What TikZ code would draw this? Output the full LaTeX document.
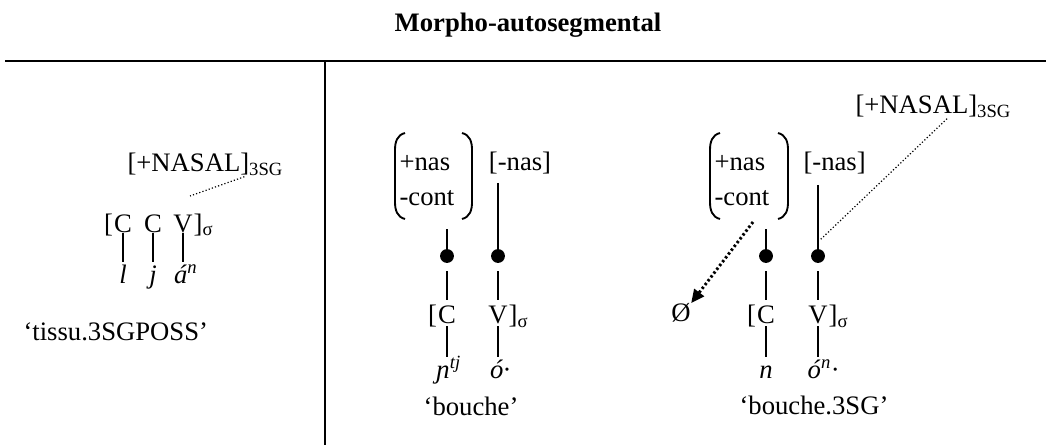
\documentclass[tikz,border=0pt]{standalone}
\usepackage{fontspec}
\setmainfont{Liberation Serif}
\usetikzlibrary{positioning,arrows.meta}
\tikzset{
    LN/.style ={line width=0.75pt},
    PA/.style ={line width=0.7pt},
    DT/.style ={line width=0.45pt, dash pattern=on 0.45pt off 0.8pt},
    DA/.style ={line width=1.1pt, dash pattern=on 0.9pt off 0.9pt, -{Triangle[length=5pt,width=4.5pt]}},
    DOT/.style ={circle, fill, inner sep=0pt, minimum size=5.2pt},
    UP/.style ={inner sep=0pt, text height=0.66em, text depth=0pt, anchor=base},
    SG/.style ={inner sep=0pt, text height=0.75em, text depth=0.2em, anchor=base, font=\itshape}}
\begin{document}
\begin{tikzpicture}[x=0.375pt, y=-0.375pt, every node/.style={inner sep=0pt}]
    \useasboundingbox (0,0) rectangle (1046,445);
    % title and rules
    \node[font=\bfseries, anchor=base] (T) at (528,32) {Morpho-autosegmental};
    \coordinate (h1) at (5,61);
    \coordinate (h2) at (1046,61);
    \coordinate (v1) at (325,61);
    \coordinate (v2) at (325,445);
    \draw[line width=0.9pt] (h1) -- (h2);
    \draw[line width=0.4pt] (v1) -- (v2);

    % left panel
    \node[anchor=base west] (N1) at (127,172) {[+NASAL]\textsubscript{3SG}};
    \node[UP] (c1) at (123,232) {C};
    \node[UP] (c2) at (153,232) {C};
    \node[UP] (c3) at (183,232) {V};
    \node[UP, anchor=base east] at (c1.base west) {[};
    \node[UP, anchor=base west] at (c3.base east) {]\textsubscript{σ}};
    \node[SG] (s1) at (123,283) {l};
    \node[SG] (s2) at (153,283) {j};
    \node[SG] (s3) at (186,283) {á\textsuperscript{n}};
    \draw[LN] (c1.south) -- (s1.north);
    \draw[LN] (c2.south) -- (s2.north);
    \draw[LN] (c3.south) -- (c3.south |- s3.north);
    \coordinate (a1) at (190,196);
    \draw[DT] ([xshift=44pt]N1.south west) -- (a1);
    \node[anchor=base west] (g1) at (23,340) {‘tissu.3SGPOSS’};

    % middle panel
    \node[anchor=base west] (p1) at (399,171) {+nas};
    \node[anchor=base west] (q1) at (399,206) {-cont};
    \draw[PA] (405,133) .. controls (397,135) and (395,142) .. (395,150) -- (395,202) .. controls (395,210) and (397,217) .. (405,219);
    \draw[PA] (462,133) .. controls (470,135) and (472,142) .. (472,150) -- (472,202) .. controls (472,210) and (470,217) .. (462,219);
    \node[anchor=base] (n1) at (520,171) {[-nas]};
    \node[DOT] (d1) at (447,256) {};
    \node[DOT] (d2) at (498,256) {};
    \coordinate (m1) at (447,229);
    \coordinate (t1) at (498,183);
    \draw[LN] (m1) -- (d1);
    \draw[LN] (t1) -- (d2);
    \node[UP] (c4) at (447,323) {C};
    \node[UP, anchor=base east] at (c4.base west) {[};
    \node[UP] (v4) at (498,323) {V};
    \node[UP, anchor=base west] at (v4.base east) {]\textsubscript{σ}};
    \node[SG] (s4) at (449,378) {ɲ\textsuperscript{tj}};
    \node[SG] (s5) at (500,378) {ó·};
    \draw[LN, shorten <=3pt, shorten >=2pt] (d1) -- (c4.north);
    \draw[LN, shorten <=3pt, shorten >=2pt] (d2) -- (v4.north);
    \draw[LN, shorten <=1pt] (c4.south) -- (c4.south |- s4.north);
    \draw[LN, shorten <=1pt] (v4.south) -- (v4.south |- s5.north);
    \node[anchor=base] (g2) at (471,415) {‘bouche’};

    % right panel
    \node[anchor=base west] (p2) at (714,171) {+nas};
    \node[anchor=base west] (q2) at (714,206) {-cont};
    \draw[PA] (720,133) .. controls (712,135) and (710,142) .. (710,150) -- (710,202) .. controls (710,210) and (712,217) .. (720,219);
    \draw[PA] (778,133) .. controls (786,135) and (788,142) .. (788,150) -- (788,202) .. controls (788,210) and (786,217) .. (778,219);
    \node[anchor=base west] (n2) at (803,171) {[-nas]};
    \node[DOT] (d3) at (766,256) {};
    \node[DOT] (d4) at (818,256) {};
    \coordinate (m2) at (766,229);
    \coordinate (t2) at (818,185);
    \draw[LN] (m2) -- (d3);
    \draw[LN] (t2) -- (d4);
    \node[UP] (c5) at (766,323) {C};
    \node[UP, anchor=base east] at (c5.base west) {[};
    \node[UP] (v5) at (818,323) {V};
    \node[UP, anchor=base west] at (v5.base east) {]\textsubscript{σ}};
    \node[SG] (s6) at (766,378) {n};
    \node[SG] (s7) at (823,378) {ó\textsuperscript{n}·};
    \draw[LN, shorten <=3pt, shorten >=2pt] (d3) -- (c5.north);
    \draw[LN, shorten <=3pt, shorten >=2pt] (d4) -- (v5.north);
    \draw[LN, shorten <=1pt] (c5.south) -- (c5.south |- s6.north);
    \draw[LN, shorten <=1pt] (v5.south) -- (v5.south |- s7.north);
    \node[anchor=base] (g3) at (814,414) {‘bouche.3SG’};
    \node (z) at (681,313) {Ø};
    \coordinate (m3) at (753,222);
    \draw[DA] (m3) -- (z.north east);
    \node[anchor=base west] (N2) at (855,114) {[+NASAL]\textsubscript{3SG}};
    \coordinate (a2) at (820,240);
    \draw[DT] ([xshift=34.5pt]N2.south west) -- (a2);
\end{tikzpicture}
\end{document}
